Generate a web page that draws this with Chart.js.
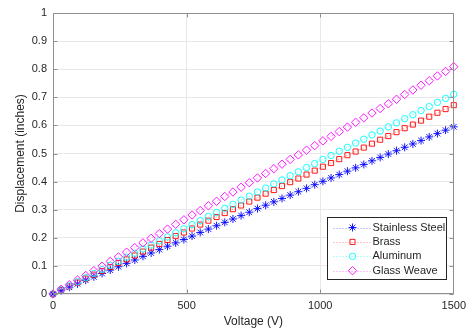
<!DOCTYPE html>
<html>
<head>
<meta charset="utf-8">
<script src="https://cdn.jsdelivr.net/npm/chart.js@4.4.0/dist/chart.umd.min.js"></script>
<style>
html, body { margin: 0; padding: 0; background: #fff; }
</style>
</head>
<body>
<canvas id="chart" width="471" height="333"></canvas>
<script>
// voltage samples (V)
var voltage = [0, 30.6, 61.2, 91.8, 122.4, 153.1, 183.7, 214.3, 244.9, 275.5,
  306.1, 336.7, 367.3, 398.0, 428.6, 459.2, 489.8, 520.4, 551.0, 581.6,
  612.2, 642.9, 673.5, 704.1, 734.7, 765.3, 795.9, 826.5, 857.1, 887.8,
  918.4, 949.0, 979.6, 1010.2, 1040.8, 1071.4, 1102.0, 1132.7, 1163.3, 1193.9,
  1224.5, 1255.1, 1285.7, 1316.3, 1346.9, 1377.6, 1408.2, 1438.8, 1469.4, 1500];

// displacement (inches)
var stainlessSteel = [0, .012, .024, .036, .049, .061, .073, .085, .097, .109,
  .121, .134, .146, .158, .170, .182, .194, .206, .219, .231,
  .243, .255, .267, .279, .291, .304, .316, .328, .340, .352,
  .364, .376, .389, .401, .413, .425, .437, .449, .461, .474,
  .486, .498, .510, .522, .534, .546, .559, .571, .583, .595];
var brass = [0, .014, .027, .041, .055, .069, .082, .096, .110, .123,
  .137, .151, .165, .178, .192, .206, .219, .233, .247, .261,
  .274, .288, .302, .315, .329, .343, .357, .370, .384, .398,
  .411, .425, .439, .453, .466, .480, .494, .507, .521, .535,
  .549, .562, .576, .590, .603, .617, .631, .645, .658, .672];
var aluminum = [0, .015, .029, .044, .058, .073, .087, .102, .116, .131,
  .145, .160, .174, .189, .203, .218, .232, .247, .261, .276,
  .290, .305, .319, .334, .348, .363, .377, .392, .406, .421,
  .435, .450, .464, .479, .493, .508, .522, .537, .551, .566,
  .580, .595, .609, .624, .638, .653, .667, .682, .696, .711];
var glassWeave = [0, .017, .033, .050, .066, .083, .099, .116, .132, .149,
  .165, .182, .198, .215, .231, .248, .264, .281, .297, .314,
  .330, .347, .363, .380, .396, .413, .429, .446, .462, .479,
  .495, .512, .528, .545, .561, .578, .594, .611, .627, .644,
  .660, .677, .693, .710, .726, .743, .759, .776, .792, .809];

var seriesNames = ['Stainless Steel', 'Brass', 'Aluminum', 'Glass Weave'];
var xTicks = [0, 500, 1000, 1500];
var yTicks = [0, 0.1, 0.2, 0.3, 0.4, 0.5, 0.6, 0.7, 0.8, 0.9, 1];

var textColor = '#262626';
var axisColor = '#8f8f8f';
var gridColor = '#e8e8e8';
var fontFamily = '"Liberation Sans", Arial, sans-serif';

function toPoints(ys) {
  return ys.map(function(y, i) { return { x: voltage[i], y: y }; });
}

function makeSet(label, ys, color, lineColor, style, radius, order) {
  return {
    label: label,
    data: toPoints(ys),
    borderColor: lineColor,
    borderWidth: 1,
    borderDash: [1, 2],
    pointStyle: style,
    pointRadius: radius,
    pointBorderColor: color,
    pointBackgroundColor: 'rgba(0,0,0,0)',
    pointBorderWidth: 0.9,
    tension: 0,
    clip: false,
    order: order
  };
}

function tickText(v) { return String(Math.round(v * 10) / 10); }

// inward ticks and the top/right sides of the box
var boxPlugin = {
  id: 'box',
  afterDatasetsDraw: function(chart) {
    var a = chart.chartArea, ctx = chart.ctx;
    var xs = chart.scales.x, ys = chart.scales.y;
    var L = Math.round(a.left) + 0.5, R = Math.round(a.right) - 0.5;
    var T = Math.round(a.top) + 0.5, B = Math.round(a.bottom) - 0.5;
    ctx.save();
    ctx.strokeStyle = axisColor;
    ctx.lineWidth = 1;
    ctx.beginPath();
    ctx.moveTo(L, T); ctx.lineTo(R, T); ctx.lineTo(R, B); ctx.lineTo(L, B); ctx.closePath();
    xTicks.forEach(function(v) {
      var px = Math.round(xs.getPixelForValue(v)) + 0.5;
      if (v === xTicks[0]) px = L;
      if (v === xTicks[xTicks.length - 1]) px = R;
      ctx.moveTo(px, B); ctx.lineTo(px, B - 4);
      ctx.moveTo(px, T); ctx.lineTo(px, T + 4);
    });
    yTicks.forEach(function(v) {
      var py = Math.round(ys.getPixelForValue(v)) + 0.5;
      ctx.moveTo(L, py); ctx.lineTo(L + 4, py);
      ctx.moveTo(R, py); ctx.lineTo(R - 4, py);
    });
    ctx.stroke();
    ctx.restore();
  }
};

// legend drawn inside the lower right corner of the axes
var legendPlugin = {
  id: 'insideLegend',
  afterDraw: function(chart) {
    var ctx = chart.ctx, a = chart.chartArea;
    var x0 = Math.round(a.right) - 127 + 0.5, y0 = Math.round(a.bottom) - 77 + 0.5;
    var w = 119, h = 62;
    ctx.save();
    ctx.fillStyle = '#ffffff';
    ctx.fillRect(x0, y0, w, h);
    ctx.strokeStyle = '#262626';
    ctx.lineWidth = 1;
    ctx.strokeRect(x0, y0, w, h);
    ctx.font = '11px ' + fontFamily;
    ctx.textBaseline = 'middle';
    ctx.textAlign = 'left';
    chart.data.datasets.forEach(function(ds, i) {
      var cy = y0 + 10 + i * 14.4;
      ctx.strokeStyle = ds.borderColor;
      ctx.lineWidth = 1;
      ctx.setLineDash([1, 2]);
      ctx.beginPath();
      ctx.moveTo(x0 + 6, Math.round(cy) + 0.5);
      ctx.lineTo(x0 + 43, Math.round(cy) + 0.5);
      ctx.stroke();
      ctx.setLineDash([]);
      ctx.strokeStyle = ds.pointBorderColor;
      ctx.fillStyle = 'rgba(0,0,0,0)';
      ctx.lineWidth = ds.pointBorderWidth;
      Chart.helpers.drawPoint(ctx, {
        pointStyle: ds.pointStyle, radius: ds.pointRadius, rotation: 0, borderWidth: 1
      }, x0 + 25, cy);
      ctx.fillStyle = textColor;
      ctx.fillText(ds.label, x0 + 45, cy);
    });
    ctx.restore();
  }
};

new Chart(document.getElementById('chart').getContext('2d'), {
  type: 'line',
  data: {
    datasets: [
      makeSet(seriesNames[0], stainlessSteel, '#0000ff', 'rgba(0,0,255,0.45)', 'star', 4, 4),
      makeSet(seriesNames[1], brass, '#ff0000', 'rgba(255,0,0,0.45)', 'rect', 3.6, 3),
      makeSet(seriesNames[2], aluminum, '#00ffff', 'rgba(0,230,230,0.5)', 'circle', 3.2, 2),
      makeSet(seriesNames[3], glassWeave, '#ff00ff', 'rgba(255,0,255,0.45)', 'rectRot', 4.2, 1)
    ]
  },
  options: {
    responsive: false,
    animation: false,
    devicePixelRatio: 1,
    layout: { padding: { top: 13, right: 15, left: 0, bottom: 0 } },
    plugins: { legend: { display: false }, tooltip: { enabled: false } },
    scales: {
      x: {
        type: 'linear',
        min: 0, max: 1500,
        afterBuildTicks: function(s) { s.ticks = xTicks.map(function(v) { return { value: v }; }); },
        afterFit: function(s) { s.height = 39; },
        ticks: { color: textColor, font: { family: fontFamily, size: 11 }, padding: 5, maxRotation: 0,
          callback: function(v) { return String(v); } },
        grid: { color: gridColor, drawTicks: false },
        border: { display: false },
        title: { display: true, text: 'Voltage (V)', color: textColor, font: { family: fontFamily, size: 12 }, padding: { top: 0, bottom: 4 } }
      },
      y: {
        min: 0, max: 1,
        afterBuildTicks: function(s) { s.ticks = yTicks.map(function(v) { return { value: v }; }); },
        afterFit: function(s) { s.width = 53; },
        ticks: { color: textColor, font: { family: fontFamily, size: 11 }, padding: 6,
          callback: function(v) { return tickText(v); } },
        grid: { color: gridColor, drawTicks: false },
        border: { display: false },
        title: { display: true, text: 'Displacement (inches)', color: textColor, font: { family: fontFamily, size: 12 }, padding: { top: 13, bottom: 0 } }
      }
    }
  },
  plugins: [boxPlugin, legendPlugin]
});
</script>
</body>
</html>
